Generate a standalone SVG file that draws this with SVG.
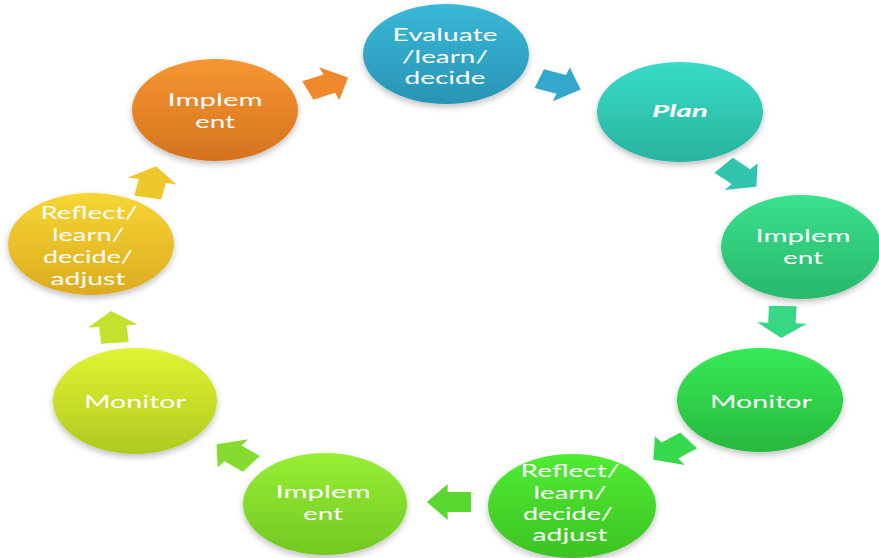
<svg xmlns="http://www.w3.org/2000/svg" width="879" height="558" viewBox="0 0 879 558">
<style>
.t{font-family:Lato,"Open Sans","Liberation Sans",sans-serif;font-size:17.5px;fill:#ffffff;text-anchor:middle}
.pl{font-weight:bold;font-style:italic}
.node ellipse{filter:url(#sh)}
</style>
<defs>
<filter id="sh" x="-20%" y="-20%" width="140%" height="150%">
<feDropShadow dx="0" dy="3" stdDeviation="3" flood-color="#000" flood-opacity="0.25"/>
</filter>
<path id="arr" d="M-16,-10 L1,-10 L1,-18 L16,0 L1,18 L1,10 L-16,10 Z"/>
<linearGradient id="g1" x1="0" y1="0" x2="0" y2="1"><stop offset="0" stop-color="#3ab8d8"/><stop offset="1" stop-color="#2994b5"/></linearGradient>
<linearGradient id="g2" x1="0" y1="0" x2="0" y2="1"><stop offset="0" stop-color="#38dcc6"/><stop offset="1" stop-color="#29b39f"/></linearGradient>
<linearGradient id="g3" x1="0" y1="0" x2="0" y2="1"><stop offset="0" stop-color="#38e28c"/><stop offset="1" stop-color="#29b76b"/></linearGradient>
<linearGradient id="g4" x1="0" y1="0" x2="0" y2="1"><stop offset="0" stop-color="#36ea56"/><stop offset="1" stop-color="#28b83e"/></linearGradient>
<linearGradient id="g5" x1="0" y1="0" x2="0" y2="1"><stop offset="0" stop-color="#50ec34"/><stop offset="1" stop-color="#3cc222"/></linearGradient>
<linearGradient id="g6" x1="0" y1="0" x2="0" y2="1"><stop offset="0" stop-color="#96f034"/><stop offset="1" stop-color="#72c822"/></linearGradient>
<linearGradient id="g7" x1="0" y1="0" x2="0" y2="1"><stop offset="0" stop-color="#e0f432"/><stop offset="1" stop-color="#b0c922"/></linearGradient>
<linearGradient id="g8" x1="0" y1="0" x2="0" y2="1"><stop offset="0" stop-color="#f7d632"/><stop offset="1" stop-color="#dcab20"/></linearGradient>
<linearGradient id="g9" x1="0" y1="0" x2="0" y2="1"><stop offset="0" stop-color="#f79632"/><stop offset="1" stop-color="#d5721e"/></linearGradient>
</defs>
<rect width="879" height="558" fill="#ffffff"/>

<g id="connectors">
<use href="#arr" fill="#ee8a2c" transform="translate(328,84) scale(1.38,1) rotate(-24)"/>
<use href="#arr" fill="#33a8cc" transform="translate(560,84) scale(1.38,1) rotate(20)"/>
<use href="#arr" fill="#33c4b0" transform="translate(740,176) scale(1.38,1) rotate(42)"/>
<use href="#arr" fill="#36d884" transform="translate(782,322) scale(1.38,1) rotate(92)"/>
<use href="#arr" fill="#36d84c" transform="translate(671,450) scale(1.38,1) rotate(143)"/>
<use href="#arr" fill="#5ad830" transform="translate(449,502) scale(1.38,1) rotate(180)"/>
<use href="#arr" fill="#86dc2e" transform="translate(234,454) scale(1.38,1) rotate(218)"/>
<use href="#arr" fill="#c6e02e" transform="translate(113,327) scale(1.38,1) rotate(-95)"/>
<use href="#arr" fill="#eec82a" transform="translate(152,182) scale(1.38,1) rotate(-79)"/>
</g>

<g id="n1" class="node">
<ellipse cx="446" cy="54" rx="83" ry="50" fill="url(#g1)"/>
<text class="t" x="445" y="41" textLength="105" lengthAdjust="spacingAndGlyphs">Evaluate</text>
<text class="t" x="445" y="63" textLength="86" lengthAdjust="spacingAndGlyphs">/learn/</text>
<text class="t" x="445" y="84" textLength="81" lengthAdjust="spacingAndGlyphs">decide</text>
</g>

<g id="n2" class="node">
<ellipse cx="680" cy="112" rx="83" ry="50" fill="url(#g2)"/>
<text class="t pl" x="680" y="117" textLength="56" lengthAdjust="spacingAndGlyphs">Plan</text>
</g>

<g id="n3" class="node">
<ellipse cx="801" cy="247" rx="80" ry="52" fill="url(#g3)"/>
<text class="t" x="803" y="242" textLength="95" lengthAdjust="spacingAndGlyphs">Implem</text>
<text class="t" x="803" y="264" textLength="40" lengthAdjust="spacingAndGlyphs">ent</text>
</g>

<g id="n4" class="node">
<ellipse cx="760" cy="400" rx="83" ry="52" fill="url(#g4)"/>
<text class="t" x="761" y="408" textLength="102" lengthAdjust="spacingAndGlyphs">Monitor</text>
</g>

<g id="n5" class="node">
<ellipse cx="572" cy="506" rx="84" ry="52" fill="url(#g5)"/>
<text class="t" x="570" y="477" textLength="99" lengthAdjust="spacingAndGlyphs">Reflect/</text>
<text class="t" x="570" y="499" textLength="73" lengthAdjust="spacingAndGlyphs">learn/</text>
<text class="t" x="568" y="520" textLength="90" lengthAdjust="spacingAndGlyphs">decide/</text>
<text class="t" x="570" y="541" textLength="75" lengthAdjust="spacingAndGlyphs">adjust</text>
</g>

<g id="n6" class="node">
<ellipse cx="325" cy="504" rx="82" ry="51" fill="url(#g6)"/>
<text class="t" x="323" y="498" textLength="95" lengthAdjust="spacingAndGlyphs">Implem</text>
<text class="t" x="323" y="520" textLength="40" lengthAdjust="spacingAndGlyphs">ent</text>
</g>

<g id="n7" class="node">
<ellipse cx="135" cy="401" rx="82" ry="53" fill="url(#g7)"/>
<text class="t" x="135" y="408" textLength="102" lengthAdjust="spacingAndGlyphs">Monitor</text>
</g>

<g id="n8" class="node">
<ellipse cx="91" cy="244" rx="83" ry="51" fill="url(#g8)"/>
<text class="t" x="89" y="219" textLength="97" lengthAdjust="spacingAndGlyphs">Reflect/</text>
<text class="t" x="88" y="241" textLength="72" lengthAdjust="spacingAndGlyphs">learn/</text>
<text class="t" x="88" y="263" textLength="90" lengthAdjust="spacingAndGlyphs">decide/</text>
<text class="t" x="88" y="285" textLength="75" lengthAdjust="spacingAndGlyphs">adjust</text>
</g>

<g id="n9" class="node">
<ellipse cx="215" cy="110" rx="83" ry="51" fill="url(#g9)"/>
<text class="t" x="215" y="106" textLength="95" lengthAdjust="spacingAndGlyphs">Implem</text>
<text class="t" x="215" y="128" textLength="40" lengthAdjust="spacingAndGlyphs">ent</text>
</g>
</svg>
